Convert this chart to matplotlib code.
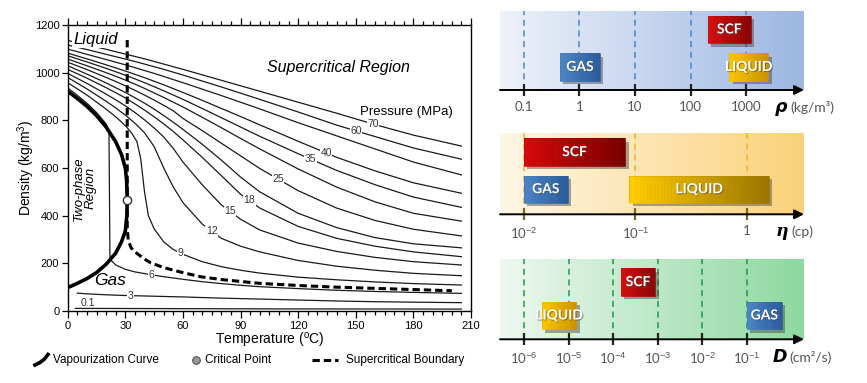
import numpy as np
import matplotlib.pyplot as plt
import matplotlib.patheffects as pe
from matplotlib.lines import Line2D
from matplotlib.ticker import MultipleLocator, NullLocator
from matplotlib.colors import to_rgb

plt.rcParams['font.family'] = ['Liberation Sans', 'DejaVu Sans']
plt.rcParams['mathtext.fontset'] = 'custom'
plt.rcParams['mathtext.rm'] = 'Liberation Sans'
plt.rcParams['mathtext.it'] = 'Liberation Sans:italic'

# ---------------- left chart data (CO2 density vs temperature) ----------------
T_grid = [0, 10, 20, 25, 30, 35, 40, 45, 50, 55, 60, 70, 80, 90, 100, 120, 140, 160, 180, 205]
rho_70 = [1135, 1117, 1098, 1088, 1078, 1068, 1058, 1047, 1036, 1025, 1014, 991, 968, 945, 922, 876, 830, 782, 738, 692]
rho_60 = [1116, 1097, 1077, 1067, 1057, 1047, 1036, 1025, 1014, 1002, 990, 965, 940, 914, 888, 835, 780, 732, 684, 637]
rho_50 = [1099, 1077, 1055, 1044, 1033, 1021, 1009, 997, 984, 971, 958, 931, 904, 876, 848, 790, 735, 680, 625, 571]
rho_40 = [1082, 1058, 1033, 1020, 1007, 993, 979, 964, 949, 933, 917, 884, 850, 816, 781, 712, 645, 588, 538, 494]
rho_35 = [1071, 1045, 1018, 1004, 989, 974, 958, 941, 924, 906, 888, 850, 811, 772, 733, 660, 590, 530, 478, 435]
rho_30 = [1057, 1029, 1000, 985, 969, 952, 934, 915, 896, 876, 856, 813, 769, 724, 680, 596, 520, 458, 410, 377]
rho_25 = [1044, 1013, 980, 963, 945, 926, 906, 885, 863, 840, 808, 757, 704, 651, 598, 505, 432, 380, 343, 315]
rho_20 = [1029, 994, 957, 937, 917, 895, 872, 847, 820, 792, 762, 700, 633, 562, 500, 410, 350, 308, 282, 265]
rho_18 = [1014, 977, 937, 916, 894, 869, 843, 815, 785, 753, 718, 645, 568, 490, 432, 355, 305, 272, 248, 228]
rho_15 = [997, 955, 910, 886, 861, 833, 802, 768, 730, 682, 625, 530, 445, 385, 340, 285, 250, 225, 207, 193]
rho_12 = [980, 932, 880, 852, 822, 788, 748, 690, 600, 520, 455, 365, 305, 272, 248, 212, 188, 171, 158, 148]

T_9 = [0, 10, 20, 25, 30, 33, 36, 38, 40, 42, 45, 50, 55, 60, 70, 80, 90, 100, 120, 140, 160, 180, 205]
rho_9 = [958, 906, 847, 815, 778, 750, 712, 640, 500, 400, 345, 290, 258, 238, 207, 186, 171, 159, 142, 131, 122, 115, 109]

T_6 = [0, 5, 10, 15, 20, 21.5, 22, 25, 30, 35, 40, 45, 50, 60, 70, 80, 90, 100, 120, 140, 160, 180, 205]
rho_6 = [936, 905, 872, 833, 785, 750, 217, 193, 175, 164, 157, 150, 144, 133, 123, 115, 108, 102, 94, 87, 82, 78, 74]

T_3 = [5, 10, 20, 30, 40, 60, 80, 100, 120, 140, 160, 180, 205]
rho_3 = [75, 72, 68, 65, 63, 59, 54, 50, 46, 42, 39, 37, 35]

T_01 = [4, 100, 205]
rho_01 = [11, 9, 8]

# vaporization curve: saturated liquid branch then saturated vapour branch
T_sat = [0, 5, 10, 15, 20, 25, 28, 30, 30.7, 31, 30.8, 30, 28, 25, 20, 15, 10, 5, 0]
rho_sat = [922, 892, 859, 820, 772, 710, 657, 600, 545, 467, 400, 335, 290, 243, 196, 161, 136, 116, 98]

# supercritical boundary
T_sc = [31, 31, 31, 31.5, 33, 36, 40, 43, 50, 58, 69, 80, 100, 120, 140, 160, 180, 200]
rho_sc = [1137, 467, 350, 298, 265, 242, 218, 203, 182, 165, 144, 132, 116, 107, 100, 95, 90, 85]

crit_T, crit_rho = 31, 467

pressures = [70, 60, 50, 40, 35, 30, 25, 20, 18, 15, 12, 9, 6, 3]
isobar_T = [T_grid] * 11 + [T_9, T_6, T_3]
isobar_rho = [rho_70, rho_60, rho_50, rho_40, rho_35, rho_30, rho_25, rho_20,
              rho_18, rho_15, rho_12, rho_9, rho_6, rho_3]

labelled = [70, 60, 40, 35, 25, 18, 15, 12, 9, 6, 3]
label_T = [159, 150, 134.5, 126.5, 109.5, 94.5, 84.5, 75, 58.5, 43.5, 32.5]

# ---------------- right panels data ----------------
rho_gas = (0.45, 2.35)
rho_scf = (202, 1195)
rho_liq = (490, 2450)
rho_ticks = [0.1, 1, 10, 100, 1000]
rho_ticklabels = ['0.1', '1', '10', '100', '1000']

eta_gas = (0.01, 0.0246)
eta_scf = (0.01, 0.0806)
eta_liq = (0.0879, 1.575)
eta_ticks = [0.01, 0.1, 1]
eta_ticklabels = ['10$^{-2}$', '10$^{-1}$', '1']

D_liq = (2.5e-6, 1.5e-5)
D_scf = (1.47e-4, 8.8e-4)
D_gas = (0.1, 0.6)
D_ticks = [1e-6, 1e-5, 1e-4, 1e-3, 1e-2, 1e-1]
D_ticklabels = ['10$^{-6}$', '10$^{-5}$', '10$^{-4}$', '10$^{-3}$', '10$^{-2}$', '10$^{-1}$']

W, H = 867, 383
fig = plt.figure(figsize=(W / 100, H / 100), dpi=100)


def fx(px):
    return px / W


def fy(py):
    return 1 - py / H


# ================= left chart =================
ax = fig.add_axes([fx(67.7), fy(311), fx(471 - 67.7), (311 - 25) / H])
line_col = '#1a1a1a'
for p, T, r in zip(pressures, isobar_T, isobar_rho):
    ax.plot(T, r, color=line_col, lw=0.9, zorder=2)
ax.plot(T_01, rho_01, color=line_col, lw=0.9, zorder=2)

ax.plot(T_sat, rho_sat, color='black', lw=2.6, zorder=4, solid_capstyle='butt')
ax.plot(T_sc, rho_sc, color='black', lw=2.2, ls=(0, (2.4, 1.3)), zorder=4)
ax.plot(crit_T, crit_rho, 'o', ms=6, mfc='white', mec='#333', mew=1, zorder=6)

for p, t in zip(labelled, label_T):
    i = pressures.index(p)
    r = np.interp(t, isobar_T[i], isobar_rho[i])
    ax.text(t, r, str(p), fontsize=7.5, color='#333', ha='center', va='center', zorder=5,
            bbox=dict(facecolor='white', edgecolor='none', pad=0.4))
ax.text(10.7, 32, '0.1', fontsize=7.5, color='#333', ha='center', va='center', zorder=5)

ax.text(2.8, 1140, 'Liquid', fontsize=12, style='italic', ha='left', va='center', zorder=5,
        bbox=dict(facecolor='white', edgecolor='none', pad=1))
ax.text(104, 1020, 'Supercritical Region', fontsize=11.5, style='italic', ha='left', va='center')
ax.text(176.5, 835, 'Pressure (MPa)', fontsize=9.5, ha='center', va='center')
ax.text(22, 130, 'Gas', fontsize=12.5, style='italic', ha='center', va='center')
ax.text(9, 515, 'Two-phase\nRegion', fontsize=9.5, style='italic', ha='center', va='center',
        rotation=90, linespacing=0.95)

ax.set_xlim(0, 210)
ax.set_ylim(0, 1200)
ax.set_xticks(range(0, 211, 30))
ax.xaxis.set_minor_locator(MultipleLocator(5))
ax.set_yticks(range(0, 1201, 200))
ax.yaxis.set_minor_locator(NullLocator())
ax.tick_params(axis='x', which='major', top=True, bottom=True, direction='out', length=5, width=0.9,
               labelsize=8, pad=2)
ax.tick_params(axis='x', which='minor', top=True, bottom=True, direction='out', length=3, width=0.9)
ax.tick_params(axis='y', which='major', direction='out', length=4, width=0.9, labelsize=8, pad=2)
for s in ax.spines.values():
    s.set_linewidth(1.0)
ax.set_xlabel('Temperature ($^{\\mathrm{o}}$C)', fontsize=10, labelpad=0)
ax.set_ylabel('Density (kg/m$^{3}$)', fontsize=10, labelpad=-2)

# legend under the left chart
ly = fy(360)
fig.add_artist(Line2D([fx(35), fx(40), fx(44.5), fx(48)], [fy(365), fy(362.5), fy(359), fy(354.5)],
                      color='black', lw=2.6, transform=fig.transFigure))
fig.text(fx(53), ly, 'Vapourization Curve', fontsize=8.5, va='center')
fig.add_artist(Line2D([fx(196)], [ly], marker='o', ms=5.5, mfc='#999999', mec='#555555', mew=0.8,
                      transform=fig.transFigure))
fig.text(fx(205), ly, 'Critical Point', fontsize=8.5, va='center')
fig.add_artist(Line2D([fx(312), fx(338)], [ly, ly], color='black', lw=2.2, ls=(0, (2.4, 1.3)),
                      transform=fig.transFigure))
fig.text(fx(346), ly, 'Supercritical Boundary', fontsize=8.5, va='center')


# ================= right panels =================
def blend(c0, c1, n):
    a = np.array(to_rgb(c0))
    b = np.array(to_rgb(c1))
    t = np.linspace(0, 1, n)[:, None]
    return a + (b - a) * t


def grad_box(pax, x0, x1, y0, y1, c0, c1, label, fs=10):
    base = pax.axvspan(x0, x1, y0, y1, color=c1, lw=0, zorder=3)
    base.set_path_effects([pe.SimplePatchShadow(offset=(2.5, -2.5), shadow_rgbFace=(0.25, 0.25, 0.25),
                                                alpha=0.45), pe.Normal()])
    n = 40
    xs = np.geomspace(x0, x1, n + 1)
    cols = blend(c0, c1, n)
    for i in range(n):
        pax.axvspan(xs[i], xs[i + 1], y0, y1, color=cols[i], lw=0.4, zorder=4)
    pax.text(np.sqrt(x0 * x1), (y0 + y1) / 2, label, transform=pax.get_xaxis_transform(),
             ha='center', va='center', color='white', fontsize=fs, fontweight='bold',
             family='Lato', zorder=6,
             path_effects=[pe.withSimplePatchShadow(offset=(0.8, -0.8), shadow_rgbFace='#444444', alpha=0.5)])


def panel(top, bottom, xmin, xmax, ticks, ticklabels, c_left, c_right, dash_col, tick_col,
          sym, unit, sym_x, unit_x, label_y, sym_family):
    rect = [fx(500), fy(bottom), fx(804 - 500), (bottom - top) / H]
    bg = fig.add_axes(rect, zorder=0)
    grad = blend(c_left, c_right, 256)[None, :, :]
    bg.imshow(grad, aspect='auto', extent=[0, 1, 0, 1])
    bg.axis('off')

    pax = fig.add_axes(rect, zorder=1)
    pax.patch.set_alpha(0)
    pax.set_xscale('log')
    pax.set_xlim(xmin, xmax)
    pax.set_ylim(0, 1)
    for t in ticks:
        pax.axvline(t, color=dash_col, lw=1.1, ls=(0, (4, 3)), zorder=1)
    for s in pax.spines.values():
        s.set_visible(False)
    pax.set_yticks([])
    pax.set_xticks(ticks)
    pax.set_xticklabels(ticklabels)
    pax.xaxis.set_minor_locator(NullLocator())
    pax.tick_params(axis='x', which='major', direction='inout', length=8, width=1.6, color=tick_col,
                    labelsize=9.5, labelcolor='#555555', pad=4)
    for lab in pax.get_xticklabels():
        lab.set_family('Lato')
    pax.annotate('', xy=(1.0, 0), xytext=(0, 0), xycoords='axes fraction', textcoords='axes fraction',
                 arrowprops=dict(arrowstyle='-|>', color='black', lw=1.4, mutation_scale=14,
                                 shrinkA=0, shrinkB=0), zorder=5, annotation_clip=False)
    pax.text(sym_x, label_y, sym, transform=pax.transAxes, fontsize=12.5, fontweight='bold',
             style='italic', family=sym_family, va='center', ha='left', color='black')
    pax.text(unit_x, label_y, unit, transform=pax.transAxes, fontsize=10, family='Lato',
             va='center', ha='left', color='#555555')
    return pax


p1 = panel(11, 90, 10 ** -1.424, 10 ** 4.034, rho_ticks, rho_ticklabels, '#eef2fa', '#9db7e2',
           '#4a86c8', '#222222', 'ρ', '(kg/m³)', 0.903, 0.955, -0.22, 'DejaVu Sans')
grad_box(p1, rho_scf[0], rho_scf[1], 0.591, 0.941, '#d81212', '#8a0606', 'SCF')
grad_box(p1, rho_gas[0], rho_gas[1], 0.114, 0.468, '#5088c8', '#2c5c9c', 'GAS')
grad_box(p1, rho_liq[0], rho_liq[1], 0.114, 0.468, '#ffc800', '#c89400', 'LIQUID')

p2 = panel(133.3, 214.3, 10 ** -2.215, 10 ** 0.511, eta_ticks, eta_ticklabels, '#fef6e6', '#fbd27a',
           '#f2b02e', '#7a6a20', 'η', '(cp)', 0.908, 0.958, -0.215, 'DejaVu Serif')
grad_box(p2, eta_scf[0], eta_scf[1], 0.596, 0.938, '#d60a0a', '#7a0000', 'SCF')
grad_box(p2, eta_gas[0], eta_gas[1], 0.143, 0.477, '#4f86c6', '#2b5d9c', 'GAS')
grad_box(p2, eta_liq[0], eta_liq[1], 0.143, 0.477, '#ffcc00', '#9c7600', 'LIQUID')

p3 = panel(259.3, 339.3, 10 ** -6.538, 10 ** 0.278, D_ticks, D_ticklabels, '#eef8f0', '#8ed8a0',
           '#1f9a4a', '#222222', 'D', '(cm²/s)', 0.896, 0.953, -0.225, 'DejaVu Sans')
grad_box(p3, D_scf[0], D_scf[1], 0.541, 0.888, '#d81212', '#8a0606', 'SCF')
grad_box(p3, D_liq[0], D_liq[1], 0.125, 0.47, '#ffc800', '#c89400', 'LIQUID')
grad_box(p3, D_gas[0], D_gas[1], 0.125, 0.47, '#5088c8', '#2c5c9c', 'GAS')

fig.savefig('out.png', dpi=100)
